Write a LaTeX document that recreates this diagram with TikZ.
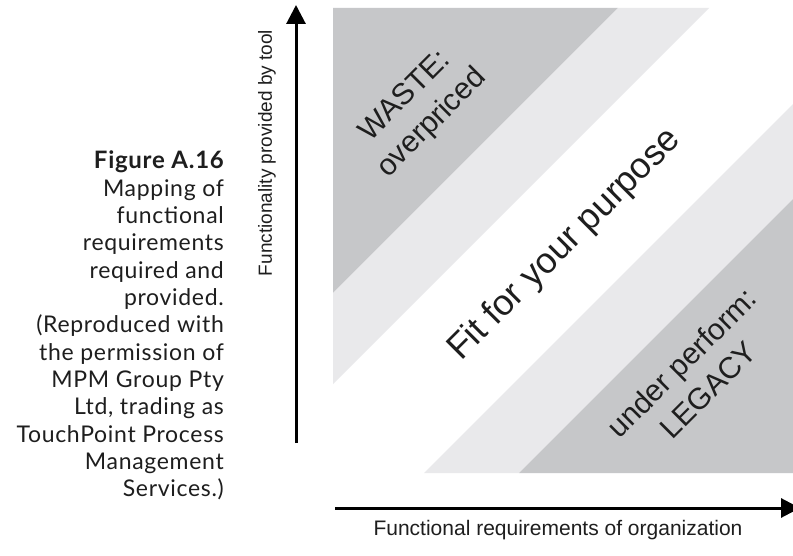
\documentclass[tikz,border=0pt]{standalone}
\usepackage{fontspec}
\setmainfont{Liberation Sans}
\newfontfamily\capfont[LetterSpace=3]{Lato}
\usetikzlibrary{arrows.meta}
\definecolor{bandDark}{HTML}{C6C7C9}
\definecolor{bandLight}{HTML}{E9E9EB}
\definecolor{inkGray}{HTML}{1E1E1E}
\begin{document}
\begin{tikzpicture}[x=1bp,y=-1bp,
  axis/.style={line width=3bp, -{Triangle[length=19bp,width=19bp]}},
  axislabel/.style={inner sep=0, text=inkGray, font=\fontsize{19bp}{22bp}\selectfont},
  zonelabel/.style={rotate=45, align=center, inner sep=0, text=inkGray, font=\fontsize{30bp}{38bp}\selectfont},
  fitlabel/.style={rotate=45, inner sep=0, text=inkGray, font=\fontsize{36bp}{40bp}\selectfont},
  caption/.style={align=right, inner sep=0, anchor=north east, text=inkGray, font=\capfont\fontsize{23bp}{27.3bp}\selectfont}]
\fill[white] (0,0) rectangle (793,556);
\useasboundingbox (0,0) rectangle (793,556);
% bands
\fill[bandDark] (333,8) -- (618,8) -- (333,293) -- cycle;
\fill[bandLight] (618,8) -- (709,8) -- (333,384) -- (333,293) -- cycle;
\fill[bandLight] (793,104) -- (793,199) -- (519,473) -- (424,473) -- cycle;
\fill[bandDark] (793,199) -- (793,473) -- (519,473) -- cycle;
% zone labels
\node[zonelabel] (waste) at (419,110) {WASTE:\\overpriced};
\node[fitlabel] (fit) at (565,245) {Fit for your purpose};
\node[zonelabel] (legacy) at (695,376) {under perform:\\LEGACY};
% axes
\coordinate (yO) at (296,443);
\coordinate (yE) at (296,5);
\coordinate (xO) at (335,508);
\coordinate (xE) at (800,508);
\draw[axis] (yO) -- (yE);
\draw[axis] (xO) -- (xE);
\node[axislabel, rotate=90] (ylab) at (267,153) {Functionality provided by tool};
\node[axislabel, font=\fontsize{21bp}{24bp}\selectfont] (xlab) at (558,530) {Functional requirements of organization};
% caption
\node[caption] (cap) at (224,151) {{\bfseries\fontsize{24bp}{27.3bp}\selectfont Figure A.16}\\Mapping of\\functional\\requirements\\required and\\provided.\\(Reproduced with\\the permission of\\MPM Group Pty\\Ltd, trading as\\TouchPoint Process\\Management\\Services.)};
\end{tikzpicture}
\end{document}
